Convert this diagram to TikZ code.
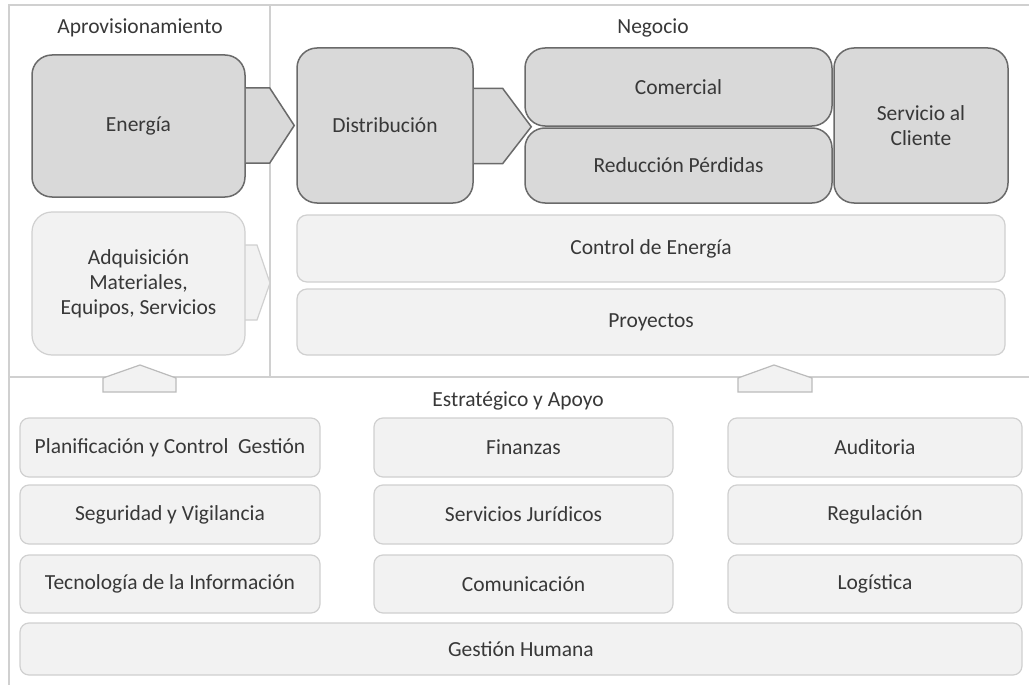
\documentclass[tikz,border=0pt]{standalone}
\usepackage{fontspec}
\setmainfont{Carlito}
\usetikzlibrary{calc}
\definecolor{txt}{HTML}{383838}
\definecolor{darkfill}{HTML}{D9D9D9}
\definecolor{darkline}{HTML}{6A6A6A}
\definecolor{lightfill}{HTML}{F2F2F2}
\definecolor{lightline}{HTML}{D0D0D0}
\definecolor{frameline}{HTML}{D0D0D0}
\begin{document}
\begin{tikzpicture}[x=1pt,y=-1pt,
  font=\fontsize{21.5}{25}\selectfont, text=txt,
  darkbox/.style={draw=darkline, fill=darkfill, line width=1.5pt, rounded corners=20pt, inner sep=0pt, align=center},
  lightbig/.style={draw=lightline, fill=lightfill, line width=1.2pt, rounded corners=20pt, inner sep=0pt, align=center},
  lightbar/.style={draw=lightline, fill=lightfill, line width=1.2pt, rounded corners=10pt, inner sep=0pt, align=center},
  supbox/.style={draw=lightline, fill=lightfill, line width=1.2pt, rounded corners=9pt, inner sep=0pt, align=center},
  darkchev/.style={draw=darkline, fill=darkfill, line width=1.5pt, line join=miter},
  lightchev/.style={draw=lightline, fill=lightfill, line width=1.2pt},
  upchev/.style={draw=lightline!90!black, fill=lightfill, line width=1.2pt},
  frame/.style={draw=frameline, line width=1.2pt},
  title/.style={inner sep=0pt}]
\useasboundingbox (0,0) rectangle (1029,685);
\fill[white] (0,0) rectangle (1029,685);

% frame
\coordinate (ftl) at (9,5);
\coordinate (ftr) at (1029,5);
\coordinate (fbl) at (9,685);
\coordinate (vtop) at (270,5);
\coordinate (vbot) at (270,377);
\coordinate (hl) at (9,377);
\coordinate (hr) at (1029,377);
\draw[frame] (ftr) -- (ftl) -- (fbl);
\draw[frame] (vtop) -- (vbot);
\draw[frame] (hl) -- (hr);

% titles
\node[title] (tapro) at (140,28) {Aprovisionamiento};
\node[title] (tneg) at (653,28) {Negocio};
\node[title] (testr) at (518,401) {Estratégico y Apoyo};

% light chevron behind Adquisicion
\coordinate (lc1) at (240,245);
\coordinate (lc2) at (257,245);
\coordinate (lc3) at (270,283);
\coordinate (lc4) at (257,320);
\coordinate (lc5) at (240,320);
\filldraw[lightchev] (lc1) -- (lc2) -- (lc3) -- (lc4) -- (lc5);

% top row
\node[darkbox, minimum width=213pt, minimum height=142pt] (energia) at (138.5,126) {Energía};
\node[darkbox, minimum width=176pt, minimum height=155pt] (distrib) at (385,125.5) {Distribución};
\node[darkbox, minimum width=307pt, minimum height=78pt] (comercial) at (678.5,87) {Comercial};
\node[darkbox, minimum width=307pt, minimum height=75pt] (reduccion) at (678.5,165.5) {Reducción Pérdidas};
\node[darkbox, minimum width=174pt, minimum height=155pt] (servicio) at (921,125.5) {Servicio al\\Cliente};

% dark chevrons
\filldraw[darkchev] ($(energia.east)+(0,-38)$) -- ($(energia.east)+(24,-38)$) -- ($(distrib.west)+(-2,0)$) -- ($(energia.east)+(24,37)$) -- ($(energia.east)+(0,37)$);
\filldraw[darkchev] ($(distrib.east)+(0,-37)$) -- ($(distrib.east)+(29,-37)$) -- ($(comercial.south west)+(7,0)$) -- ($(distrib.east)+(29,38)$) -- ($(distrib.east)+(0,38)$);

% second row
\node[lightbig, minimum width=213pt, minimum height=143pt] (adq) at (138.5,283.5) {Adquisición\\Materiales,\\Equipos, Servicios};
\node[lightbar, minimum width=708pt, minimum height=67pt] (control) at (651,248.5) {Control de Energía};
\node[lightbar, minimum width=708pt, minimum height=66pt] (proyectos) at (651,322) {Proyectos};

% up chevrons
\filldraw[upchev] (103,392) -- (103,378) -- (140,365) -- (176,378) -- (176,392) -- cycle;
\filldraw[upchev] (738,392) -- (738,378) -- (774,365) -- (812,378) -- (812,392) -- cycle;

% support boxes
\node[supbox, minimum width=300pt, minimum height=59pt] (plan) at (170,447.5) {Planificación y Control\ \ Gestión};
\node[supbox, minimum width=300pt, minimum height=59pt] (seg) at (170,514.5) {Seguridad y Vigilancia};
\node[supbox, minimum width=300pt, minimum height=58pt] (tec) at (170,584) {Tecnología de la Información};
\node[supbox, minimum width=299pt, minimum height=59pt] (fin) at (523.5,447.5) {Finanzas};
\node[supbox, minimum width=299pt, minimum height=59pt] (jur) at (523.5,514.5) {Servicios Jurídicos};
\node[supbox, minimum width=299pt, minimum height=58pt] (com) at (523.5,584) {Comunicación};
\node[supbox, minimum width=294pt, minimum height=59pt] (aud) at (875,447.5) {Auditoria};
\node[supbox, minimum width=294pt, minimum height=59pt] (reg) at (875,514.5) {Regulación};
\node[supbox, minimum width=294pt, minimum height=58pt] (log) at (875,584) {Logística};
\node[supbox, minimum width=1002pt, minimum height=52pt] (gh) at (521,649) {Gestión Humana};
\end{tikzpicture}
\end{document}
